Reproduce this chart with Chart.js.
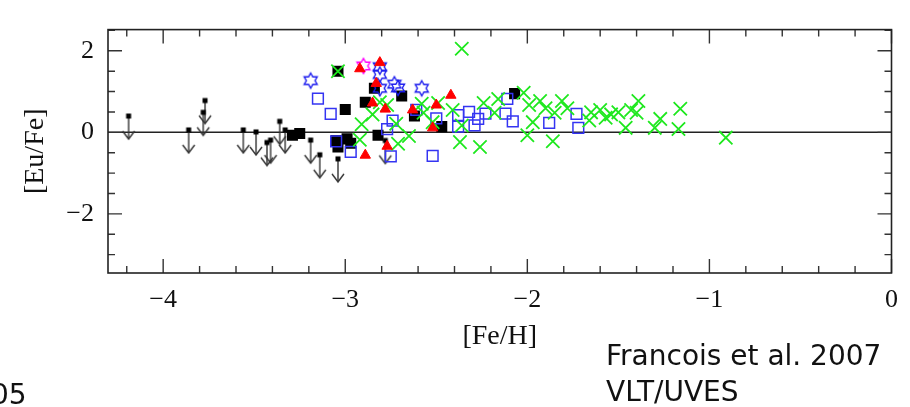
<!DOCTYPE html>
<html><head><meta charset="utf-8">
<script src="https://cdn.jsdelivr.net/npm/chart.js@4.4.1/dist/chart.umd.min.js"></script>
<style>
html,body{margin:0;padding:0;background:#fff;overflow:hidden}
#wrap{position:relative;width:910px;height:407px;overflow:hidden}
canvas{display:block}
.note{position:absolute;font-family:"DejaVu Sans",sans-serif;font-size:28px;line-height:1;color:#111;white-space:nowrap}
</style></head><body>
<div id="wrap"><canvas id="c" width="910" height="407"></canvas>
<div class="note" style="left:606px;top:342px">Francois et al. 2007</div>
<div class="note" style="left:606px;top:378px">VLT/UVES</div>
<div class="note" style="left:-9px;top:381px">05</div>
</div>
<script>
// ---- axis ticks ----
const xTickValues = [-4, -3, -2, -1, 0];
const yTickValues = [-2, 0, 2];
const xLabel = '[Fe/H]';
const yLabel = '[Eu/Fe]';

// ---- upper limits (arrows) ----
const limFeH = [-4.19, -3.86, -3.77, -3.78, -3.56, -3.49, -3.36, -3.43, -3.41, -3.33, -3.19, -3.14, -3.04, -2.78];
const limEuFe = [0.40, 0.06, 0.78, 0.49, 0.06, 0.01, 0.27, -0.25, -0.19, 0.06, -0.19, -0.55, -0.65, -0.20];

// ---- filled black squares ----
const blkFeH = [-3.29, -3.25, -3.05, -3.04, -2.99, -2.97, -3.04, -3.00, -2.89, -2.84, -2.69, -2.62, -2.47, -2.82, -2.07];
const blkEuFe = [-0.07, -0.03, -0.20, -0.36, -0.16, -0.27, 1.50, 0.56, 0.74, 1.08, 0.89, 0.40, 0.14, -0.07, 0.95];

// ---- open blue squares ----
const bsqFeH = [-3.15, -3.08, -3.05, -2.97, -2.77, -2.74, -2.75, -2.61, -2.50, -2.52, -2.38, -2.32, -2.38, -2.29, -2.27, -2.23, -2.11, -2.12, -2.08, -1.88, -1.73, -1.72];
const bsqEuFe = [0.83, 0.45, -0.22, -0.48, 0.08, 0.29, -0.59, 0.55, 0.34, -0.58, 0.42, 0.50, 0.14, 0.17, 0.33, 0.46, 0.82, 0.46, 0.27, 0.23, 0.45, 0.11];

// ---- green crosses ----
const crsFeH = [-2.36, -3.04, -2.85, -2.91, -2.92, -2.81, -2.77, -2.72, -2.65, -2.71, -2.58, -2.57, -2.49, -2.41, -2.37, -2.52, -2.36, -2.26, -2.24, -2.16, -2.18, -2.02, -1.99, -1.97, -2.00, -1.93, -1.90, -1.85, -1.86, -1.81, -1.78, -1.65, -1.66, -1.60, -1.57, -1.54, -1.50, -1.46, -1.43, -1.39, -1.40, -1.30, -1.27, -1.16, -1.17, -0.91];
const crsEuFe = [2.05, 1.50, 0.44, 0.20, -0.18, 0.74, 0.67, 0.21, -0.09, -0.28, 0.70, 0.48, 0.72, 0.55, -0.24, 0.25, 0.17, -0.36, 0.72, 0.82, 0.48, 0.97, 0.67, 0.25, -0.07, 0.77, 0.59, 0.48, -0.22, 0.77, 0.59, 0.49, 0.29, 0.55, 0.36, 0.44, 0.49, 0.11, 0.55, 0.77, 0.48, 0.11, 0.33, 0.58, 0.08, -0.13];

// ---- red triangles ----
const triFeH = [-2.92, -2.81, -2.83, -2.85, -2.78, -2.63, -2.50, -2.42, -2.52, -2.77, -2.89];
const triEuFe = [1.56, 1.71, 1.20, 0.72, 0.57, 0.55, 0.67, 0.91, 0.11, -0.34, -0.56];

// ---- blue stars ----
const starFeH = [-3.19, -2.81, -2.81, -2.81, -2.73, -2.71, -2.58];
const starEuFe = [1.27, 1.61, 1.42, 1.08, 1.18, 1.09, 1.08];

// ---- magenta star ----
const magFeH = [-2.90];
const magEuFe = [1.63];

const pts = (xs, ys) => xs.map((x, i) => ({x: x, y: ys[i]}));

function arrowCanvas() {
  const c = document.createElement('canvas'); c.width = 16; c.height = 54;
  const g = c.getContext('2d'); const cx = 8, cy = 27;
  g.strokeStyle = '#333'; g.lineWidth = 1.4;
  g.beginPath(); g.moveTo(cx, cy); g.lineTo(cx, cy + 23); g.stroke();
  g.beginPath(); g.moveTo(cx - 6, cy + 15); g.lineTo(cx, cy + 23); g.lineTo(cx + 6, cy + 15); g.stroke();
  g.fillStyle = '#000'; g.fillRect(cx - 2.5, cy - 2.5, 5, 5);
  return c;
}
function starCanvas(color) {
  const c = document.createElement('canvas'); c.width = 20; c.height = 20;
  const g = c.getContext('2d'); g.strokeStyle = color; g.lineWidth = 1.4;
  const R = 7.5, r = R / Math.sqrt(3);
  g.beginPath();
  for (let k = 0; k < 12; k++) {
    const a = -Math.PI / 2 + k * Math.PI / 6;
    const rr = k % 2 === 0 ? R : r;
    const px = 10 + rr * Math.cos(a), py = 10 + rr * Math.sin(a);
    if (k) g.lineTo(px, py); else g.moveTo(px, py);
  }
  g.closePath(); g.stroke();
  return c;
}

const fmt = v => (v < 0 ? '\u2212' + Math.abs(v) : String(v));

const frameTicks = {
  id: 'frameTicks',
  afterDatasetsDraw(chart) {
    const {ctx, chartArea: a, scales: {x, y}} = chart;
    ctx.save();
    ctx.strokeStyle = '#333'; ctx.lineWidth = 1.4;
    ctx.beginPath();
    for (let i = -43; i <= 0; i++) {
      const v = i / 5; if (v < x.min - 1e-9) continue;
      const px = x.getPixelForValue(v);
      const major = Math.abs(v - Math.round(v)) < 1e-9;
      const len = major ? 14 : 7;
      ctx.moveTo(px, a.bottom); ctx.lineTo(px, a.bottom - len);
      ctx.moveTo(px, a.top); ctx.lineTo(px, a.top + len);
    }
    for (let j = -6; j <= 5; j++) {
      const v = j / 2; if (v < y.min || v > y.max) continue;
      const py = y.getPixelForValue(v);
      const major = Math.abs(v % 2) < 1e-9;
      const len = major ? 14 : 7;
      ctx.moveTo(a.left, py); ctx.lineTo(a.left + len, py);
      ctx.moveTo(a.right, py); ctx.lineTo(a.right - len, py);
    }
    ctx.stroke();
    ctx.strokeStyle = '#222'; ctx.lineWidth = 1.6;
    ctx.strokeRect(a.left, a.top, a.right - a.left, a.bottom - a.top);
    ctx.restore();
  }
};

const X_MIN = -4.303, X_MAX = 0, Y_MIN = -3.45, Y_MAX = 2.52;

new Chart(document.getElementById('c'), {
  type: 'scatter',
  data: {
    datasets: [
      {label: 'triangles', data: pts(triFeH, triEuFe), order: 1, pointStyle: 'triangle', radius: 6, backgroundColor: '#ff0000', borderColor: '#ff0000', borderWidth: 1},
      {label: 'crosses', data: pts(crsFeH, crsEuFe), order: 2, pointStyle: 'crossRot', radius: 9.4, borderColor: '#1fe81f', borderWidth: 1.8},
      {label: 'magenta star', data: pts(magFeH, magEuFe), order: 3, pointStyle: starCanvas('#ff00ff'), radius: 7},
      {label: 'blue stars', data: pts(starFeH, starEuFe), order: 4, pointStyle: starCanvas('#1a1aee'), radius: 7},
      {label: 'blue squares', data: pts(bsqFeH, bsqEuFe), order: 5, pointStyle: 'rect', radius: 7.6, backgroundColor: 'rgba(0,0,0,0)', borderColor: '#3434f2', borderWidth: 1.5},
      {label: 'black squares', data: pts(blkFeH, blkEuFe), order: 6, pointStyle: 'rect', radius: 7.8, backgroundColor: '#000', borderColor: '#000', borderWidth: 0},
      {label: 'upper limits', data: pts(limFeH, limEuFe), order: 7, pointStyle: arrowCanvas(), radius: 6},
      {type: 'line', label: 'zero', data: [{x: X_MIN, y: 0}, {x: X_MAX, y: 0}], order: 8, borderColor: '#222', borderWidth: 1.5, pointRadius: 0, showLine: true}
    ]
  },
  options: {
    responsive: false,
    devicePixelRatio: 1,
    animation: false,
    events: [],
    layout: {padding: {top: 10, right: 9, bottom: 0, left: 0}},
    plugins: {legend: {display: false}, tooltip: {enabled: false}},
    scales: {
      x: {
        type: 'linear', position: 'bottom', min: X_MIN, max: X_MAX,
        afterBuildTicks: s => { s.ticks = xTickValues.map(v => ({value: v})); },
        afterFit: s => { s.height = 134; },
        ticks: {callback: fmt, font: {family: '"Liberation Serif", serif', size: 26}, color: '#111', padding: 12, maxRotation: 0, autoSkip: false},
        grid: {display: false, drawTicks: false},
        border: {display: false},
        title: {display: true, text: xLabel, font: {family: '"Liberation Serif", serif', size: 28}, color: '#111', padding: {top: 0, bottom: 54}}
      },
      y: {
        type: 'linear', position: 'left', min: Y_MIN, max: Y_MAX,
        afterBuildTicks: s => { s.ticks = yTickValues.map(v => ({value: v})); },
        afterFit: s => { s.width = 108; },
        ticks: {callback: fmt, font: {family: '"Liberation Serif", serif', size: 26}, color: '#111', padding: 14, autoSkip: false},
        grid: {display: false, drawTicks: false},
        border: {display: false},
        title: {display: true, text: yLabel, font: {family: '"Liberation Serif", serif', size: 28}, color: '#111', padding: {top: 19, bottom: 0}}
      }
    }
  },
  plugins: [frameTicks]
});
</script>
</body></html>
